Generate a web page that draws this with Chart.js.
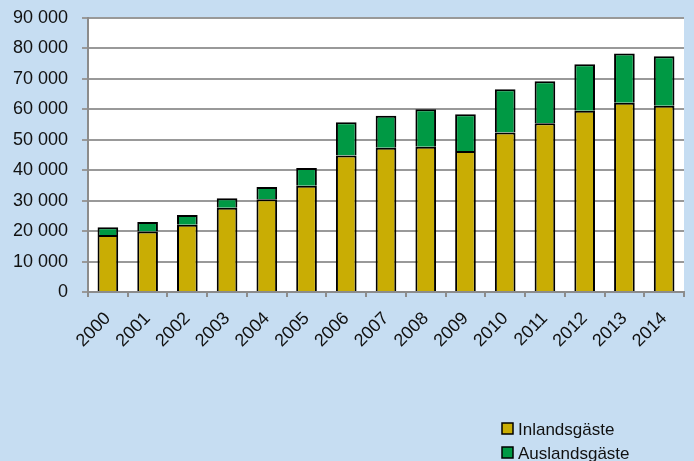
<!DOCTYPE html>
<html>
<head>
<meta charset="utf-8">
<script src="https://cdn.jsdelivr.net/npm/chart.js@4/dist/chart.umd.min.js"></script>
<style>
html,body{margin:0;padding:0;background:#c6ddf2;}
#wrap{position:relative;width:694px;height:461px;}
</style>
</head>
<body>
<div id="wrap"><canvas id="c" width="694" height="461"></canvas></div>
<script>
const categories = ['2000','2001','2002','2003','2004','2005','2006','2007','2008','2009','2010','2011','2012','2013','2014'];
const inlandsgaeste = [18700, 19900, 22100, 27700, 30450, 34900, 44800, 47400, 47700, 46300, 52400, 55400, 59500, 62150, 61150];
const auslandsgaeste = [2550, 3100, 3200, 3100, 4050, 5800, 10950, 10500, 12300, 12100, 14200, 13800, 15300, 16150, 16250];
const seriesLabels = ['Inlandsgäste', 'Auslandsgäste'];
const yTicks = [0, 10000, 20000, 30000, 40000, 50000, 60000, 70000, 80000, 90000];

const COL_IN = '#c9ad04';
const COL_AUS = '#009944';
const BG = '#c6ddf2';

const tickFont = {family:'"Liberation Sans", Arial', size:18};
const legFont = '17px "Liberation Sans", Arial';

function fmt(v){ return String(v).replace(/\B(?=(\d{3})+(?!\d))/g, ' '); }

const bgPlugin = {
  id:'bg',
  beforeDraw(chart){
    const {ctx, chartArea:a} = chart;
    ctx.save();
    ctx.fillStyle = BG; ctx.fillRect(0,0,chart.width,chart.height);
    ctx.fillStyle = '#ffffff'; ctx.fillRect(a.left, a.top, a.right-a.left, a.bottom-a.top);
    ctx.restore();
  }
};

const legendPlugin = {
  id:'stackLegend',
  afterDraw(chart){
    const ctx = chart.ctx;
    ctx.save();
    ctx.font = legFont;
    ctx.textBaseline = 'alphabetic';
    ctx.textAlign = 'left';
    chart.data.datasets.forEach((ds,i)=>{
      const x = 502, y = 423 + i*24;
      ctx.fillStyle = ds.backgroundColor;
      ctx.fillRect(x, y, 11, 11);
      ctx.lineWidth = 1.5; ctx.strokeStyle = '#000';
      ctx.strokeRect(x, y, 11, 11);
      ctx.fillStyle = '#111';
      ctx.fillText(ds.label, 518, y + 12);
    });
    ctx.restore();
  }
};

new Chart(document.getElementById('c'), {
  type:'bar',
  data:{
    labels: categories,
    datasets:[
      {label:seriesLabels[0], data:inlandsgaeste, backgroundColor:COL_IN, borderColor:'#000', borderWidth:2, borderSkipped:'start', barPercentage:0.52, categoryPercentage:1},
      {label:seriesLabels[1], data:auslandsgaeste, backgroundColor:COL_AUS, borderColor:'#000', borderWidth:2, borderSkipped:'start', barPercentage:0.52, categoryPercentage:1}
    ]
  },
  options:{
    responsive:false,
    animation:false,
    devicePixelRatio:1,
    layout:{padding:{left:0, right:10, top:18, bottom:0}},
    plugins:{legend:{display:false}, tooltip:{enabled:false}},
    scales:{
      x:{
        stacked:true,
        offset:true,
        grid:{offset:true, drawOnChartArea:false, drawTicks:true, tickLength:5, color:'#8c8c8c', lineWidth:2},
        border:{display:true, color:'#8c8c8c', width:2},
        ticks:{minRotation:45, maxRotation:45, font:tickFont, color:'#111', padding:11, autoSkip:false},
        afterFit(s){ s.height = 461 - 292; s.paddingLeft = 0; s.paddingRight = 0; }
      },
      y:{
        stacked:true,
        min:0, max:90000,
        afterBuildTicks(s){ s.ticks = yTicks.map(v=>({value:v})); },
        grid:{color:'#999999', lineWidth:2, tickLength:6, drawTicks:true},
        border:{display:true, color:'#8c8c8c', width:2},
        ticks:{font:tickFont, color:'#111', padding:14, callback:(v)=>fmt(v)},
        afterFit(s){ s.width = 88; s.paddingTop = 0; s.paddingBottom = 0; }
      }
    }
  },
  plugins:[bgPlugin, legendPlugin]
});
</script>
</body>
</html>
